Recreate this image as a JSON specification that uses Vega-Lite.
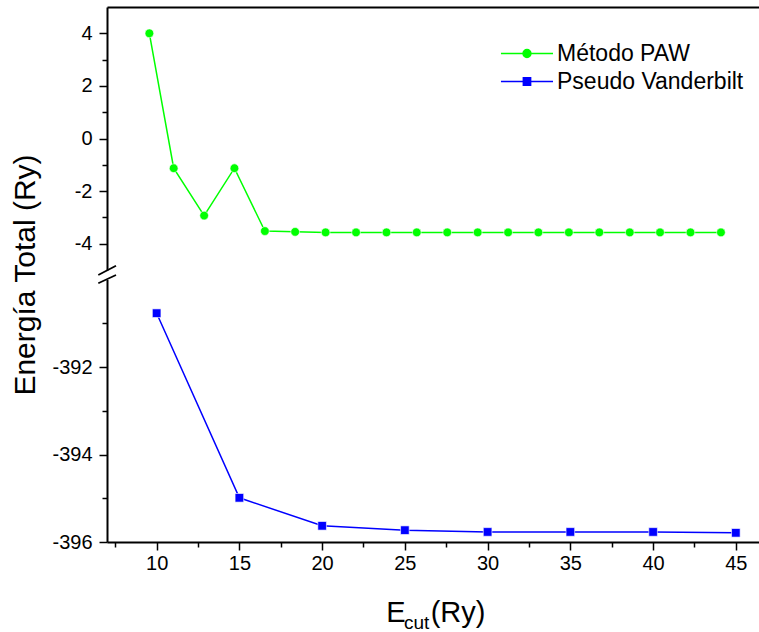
{
  "$schema": "https://vega.github.io/schema/vega-lite/v6.json",
  "width": 652,
  "height": 535,
  "autosize": {"type": "none"},
  "padding": {"left": 107, "top": 7, "right": 0, "bottom": 90},
  "background": "white",
  "config": {
    "view": {"stroke": null},
    "font": "Liberation Sans",
    "axis": {"labelFont": "Liberation Sans", "titleFont": "Liberation Sans", "labelColor": "black", "titleColor": "black", "domainColor": "black", "tickColor": "black", "grid": false, "titleFontWeight": "normal"},
    "legend": {"labelFont": "Liberation Sans", "labelColor": "black", "labelLimit": 0}
  },
  "datasets": {
    "paw": [
      {"ecut": 9.56, "energia": 4.0, "serie": "Método PAW"},
      {"ecut": 11.03, "energia": -1.13, "serie": "Método PAW"},
      {"ecut": 12.87, "energia": -2.93, "serie": "Método PAW"},
      {"ecut": 14.70, "energia": -1.13, "serie": "Método PAW"},
      {"ecut": 16.54, "energia": -3.52, "serie": "Método PAW"},
      {"ecut": 18.37, "energia": -3.55, "serie": "Método PAW"},
      {"ecut": 20.21, "energia": -3.57, "serie": "Método PAW"},
      {"ecut": 22.05, "energia": -3.57, "serie": "Método PAW"},
      {"ecut": 23.89, "energia": -3.57, "serie": "Método PAW"},
      {"ecut": 25.72, "energia": -3.57, "serie": "Método PAW"},
      {"ecut": 27.56, "energia": -3.57, "serie": "Método PAW"},
      {"ecut": 29.40, "energia": -3.57, "serie": "Método PAW"},
      {"ecut": 31.24, "energia": -3.57, "serie": "Método PAW"},
      {"ecut": 33.07, "energia": -3.57, "serie": "Método PAW"},
      {"ecut": 34.91, "energia": -3.57, "serie": "Método PAW"},
      {"ecut": 36.75, "energia": -3.57, "serie": "Método PAW"},
      {"ecut": 38.59, "energia": -3.57, "serie": "Método PAW"},
      {"ecut": 40.42, "energia": -3.57, "serie": "Método PAW"},
      {"ecut": 42.26, "energia": -3.57, "serie": "Método PAW"},
      {"ecut": 44.10, "energia": -3.57, "serie": "Método PAW"}
    ],
    "vdb": [
      {"ecut": 10, "energia": -390.77, "serie": "Pseudo Vanderbilt"},
      {"ecut": 15, "energia": -394.99, "serie": "Pseudo Vanderbilt"},
      {"ecut": 20, "energia": -395.63, "serie": "Pseudo Vanderbilt"},
      {"ecut": 25, "energia": -395.73, "serie": "Pseudo Vanderbilt"},
      {"ecut": 30, "energia": -395.77, "serie": "Pseudo Vanderbilt"},
      {"ecut": 35, "energia": -395.77, "serie": "Pseudo Vanderbilt"},
      {"ecut": 40, "energia": -395.77, "serie": "Pseudo Vanderbilt"},
      {"ecut": 45, "energia": -395.79, "serie": "Pseudo Vanderbilt"}
    ]
  },
  "resolve": {"scale": {"y": "independent"}, "axis": {"x": "independent", "y": "independent"}},
  "layer": [
    {
      "layer": [
        {
          "data": {"name": "paw"},
          "mark": {"type": "line", "color": "#00ff00", "strokeWidth": 1.5},
          "encoding": {
            "x": {"field": "ecut", "type": "quantitative", "scale": {"domain": [7, 46.4], "nice": false, "zero": false},
              "axis": {"orient": "top", "domain": true, "domainWidth": 2, "ticks": false, "labels": false, "title": null}},
            "y": {"field": "energia", "type": "quantitative", "scale": {"domain": [-5, 5], "range": [263, 0], "nice": false, "zero": false},
              "axis": {"orient": "left", "values": [-4, -3, -2, -1, 0, 1, 2, 3, 4], "labelExpr": "datum.value % 2 == 0 ? '' + datum.value : ''",
                "tickSize": {"condition": {"test": "datum.value % 2 == 0", "value": 8}, "value": 5},
                "tickWidth": 1.5, "domainWidth": 2, "labelFontSize": 20, "labelPadding": 7, "title": null}}
          }
        },
        {
          "data": {"name": "paw"},
          "mark": {"type": "point", "shape": "circle", "filled": true, "opacity": 1, "size": 76, "color": "#00ff00", "stroke": "white", "strokeWidth": 0.6},
          "encoding": {
            "x": {"field": "ecut", "type": "quantitative"},
            "y": {"field": "energia", "type": "quantitative"}
          }
        },
        {
          "data": {"name": "paw"},
          "transform": [{"filter": "false"}],
          "mark": {"type": "point", "filled": true, "opacity": 1, "size": 484, "strokeWidth": 1.5},
          "encoding": {
            "fill": {"field": "serie", "type": "nominal", "scale": {"domain": ["Método PAW", "Pseudo Vanderbilt"], "range": ["#00ff00", "#0000ff"]},
              "legend": {"title": null, "orient": "none", "legendX": 423, "legendY": 34.5, "labelFontSize": 23, "labelOffset": 3, "rowPadding": 4, "symbolSize": 484, "symbolStrokeWidth": 1.5, "labelLimit": 0}},
            "stroke": {"field": "serie", "type": "nominal", "scale": {"domain": ["Método PAW", "Pseudo Vanderbilt"], "range": ["#00ff00", "#0000ff"]},
              "legend": {"title": null, "orient": "none", "legendX": 423, "legendY": 34.5, "labelFontSize": 23, "labelOffset": 3, "rowPadding": 4, "symbolSize": 484, "symbolStrokeWidth": 1.5, "labelLimit": 0}},
            "shape": {"field": "serie", "type": "nominal", "scale": {"domain": ["Método PAW", "Pseudo Vanderbilt"], "range": ["M-3.73,0H-1.725A0.36,0.36,0,1,1,-1.005,0A0.36,0.36,0,1,1,-1.725,0M-1.005,0H1", "M-3.73,0H1M-1.695,-0.33H-1.035V0.33H-1.695Z"]},
              "legend": {"title": null, "orient": "none", "legendX": 423, "legendY": 34.5, "labelFontSize": 23, "labelOffset": 3, "rowPadding": 4, "symbolSize": 484, "symbolStrokeWidth": 1.5, "labelLimit": 0}}
          }
        }
      ]
    },
    {
      "layer": [
        {
          "data": {"name": "vdb"},
          "mark": {"type": "line", "color": "#0000ff", "strokeWidth": 1.5},
          "encoding": {
            "x": {"field": "ecut", "type": "quantitative",
              "axis": {"orient": "bottom", "values": [7.5, 10, 12.5, 15, 17.5, 20, 22.5, 25, 27.5, 30, 32.5, 35, 37.5, 40, 42.5, 45],
                "labelExpr": "datum.value % 5 == 0 ? '' + datum.value : ''",
                "tickSize": {"condition": {"test": "datum.value % 5 == 0", "value": 8}, "value": 5},
                "tickWidth": 1.5, "domainWidth": 2, "labelFontSize": 20, "labelPadding": 3, "title": null}},
            "y": {"field": "energia", "type": "quantitative", "scale": {"domain": [-396, -390], "range": [535, 272.5], "nice": false, "zero": false},
              "axis": {"orient": "left", "values": [-396, -395, -394, -393, -392, -391], "labelExpr": "datum.value % 2 == 0 ? '' + datum.value : ''",
                "tickSize": {"condition": {"test": "datum.value % 2 == 0", "value": 8}, "value": 5},
                "tickWidth": 1.5, "domainWidth": 2, "labelFontSize": 20, "labelPadding": 7,
                "title": "Energía Total (Ry)", "titleFontSize": 30, "titleY": 267.5, "titlePadding": 11}}
          }
        },
        {
          "data": {"name": "vdb"},
          "mark": {"type": "point", "shape": "square", "filled": true, "opacity": 1, "size": 74, "color": "#0000ff", "stroke": "white", "strokeWidth": 0.6},
          "encoding": {
            "x": {"field": "ecut", "type": "quantitative"},
            "y": {"field": "energia", "type": "quantitative"}
          }
        },
        {
          "data": {"values": [{}]},
          "mark": {"type": "rule", "color": "black", "strokeWidth": 1.8},
          "encoding": {"x": {"datum": 6.474}, "x2": {"datum": 7.544}, "y": {"datum": -389.897}, "y2": {"datum": -389.685}}
        },
        {
          "data": {"values": [{}]},
          "mark": {"type": "rule", "color": "black", "strokeWidth": 1.8},
          "encoding": {"x": {"datum": 6.474}, "x2": {"datum": 7.544}, "y": {"datum": -390.087}, "y2": {"datum": -389.897}}
        },
        {
          "data": {"values": [{}]},
          "mark": {"type": "text", "text": "E", "font": "Liberation Sans", "fontSize": 29, "align": "left", "baseline": "alphabetic", "color": "black"},
          "encoding": {"x": {"datum": 23.88}, "y": {"datum": -397.82}}
        },
        {
          "data": {"values": [{}]},
          "mark": {"type": "text", "text": "cut", "font": "Liberation Sans", "fontSize": 19, "align": "left", "baseline": "alphabetic", "color": "black"},
          "encoding": {"x": {"datum": 24.94}, "y": {"datum": -397.995}}
        },
        {
          "data": {"values": [{}]},
          "mark": {"type": "text", "text": "(Ry)", "font": "Liberation Sans", "fontSize": 29, "align": "left", "baseline": "alphabetic", "color": "black"},
          "encoding": {"x": {"datum": 26.56}, "y": {"datum": -397.82}}
        }
      ]
    }
  ]
}
